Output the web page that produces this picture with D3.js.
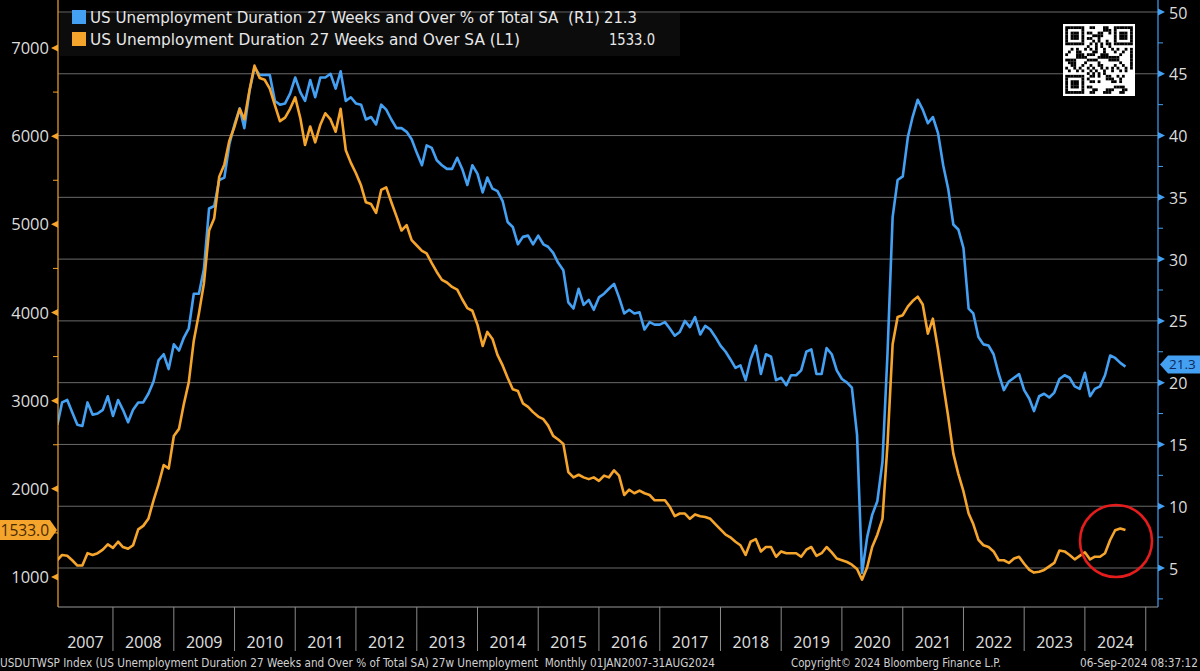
<!DOCTYPE html>
<html><head><meta charset="utf-8">
<script src="https://cdn.jsdelivr.net/npm/d3@7"></script>
<style>
html,body{margin:0;padding:0;background:#000;overflow:hidden;}
svg{display:block;}
text.pre{white-space:pre;}
</style></head><body>
<svg id="c" width="1200" height="671"></svg>
<script>
// ---- DATA (monthly, Jan 2007 - Aug 2024) ----
const seriesStart = [2007, 0]; // January 2007
// US Unemployment Duration 27 Weeks and Over SA (thousands, L1)
const longTermUnemployed = [
  1190,1250,1240,1190,1130,1130,1270,1250,1270,1310,1370,1330,
  1400,1340,1320,1360,1540,1580,1660,1870,2050,2270,2230,2600,
  2680,2950,3210,3680,3990,4330,4930,5070,5540,5680,5950,6110,
  6310,6190,6520,6800,6660,6640,6540,6350,6170,6210,6310,6440,
  6200,5900,6110,5930,6130,6260,6190,6050,6310,5840,5700,5580,
  5440,5250,5230,5130,5390,5420,5250,5090,4930,4990,4820,4760,
  4700,4670,4560,4460,4370,4340,4290,4260,4150,4050,4020,3860,
  3620,3780,3700,3520,3400,3260,3130,3110,2970,2930,2870,2820,
  2790,2720,2600,2560,2510,2190,2130,2160,2130,2110,2130,2090,
  2150,2130,2210,2150,1930,1990,1950,1980,1950,1930,1870,1870,
  1870,1800,1690,1720,1720,1660,1710,1690,1680,1660,1600,1540,
  1480,1450,1400,1360,1250,1400,1430,1290,1340,1340,1230,1290,
  1270,1270,1270,1230,1310,1340,1240,1270,1340,1280,1210,1190,
  1170,1140,1090,970,1110,1340,1480,1660,2500,3640,3950,3970,
  4070,4130,4180,4090,3760,3930,3580,3190,2820,2400,2170,1970,
  1720,1600,1420,1360,1340,1290,1190,1190,1160,1210,1230,1150,
  1080,1050,1060,1080,1120,1160,1300,1290,1250,1200,1240,1280,
  1200,1230,1230,1270,1420,1530,1550,1533
];
// US Unemployment Duration 27 Weeks and Over % of Total SA (R1)
const longTermShare = [
  16.6,18.4,18.6,17.6,16.6,16.5,18.4,17.4,17.5,17.8,18.9,17.3,
  18.6,17.8,16.8,17.8,18.4,18.4,19.1,20.1,21.8,22.3,21.1,23.1,
  22.6,23.6,24.4,27.2,27.2,29.2,34.1,34.3,36.4,36.6,39.3,40.9,
  42.2,40.6,43.6,45.5,44.9,44.9,44.9,42.8,42.5,42.6,43.4,44.7,
  43.5,42.8,44.5,43.1,44.7,44.7,45.0,43.8,45.2,42.8,43.1,42.6,
  42.5,41.3,41.5,40.9,42.5,42.1,41.3,40.6,40.6,40.3,39.7,38.6,
  37.6,39.2,39.0,38.0,37.6,37.3,37.3,38.2,37.3,36.0,37.6,36.9,
  35.4,36.6,35.7,35.5,34.7,33.0,32.6,31.2,31.8,31.9,31.2,31.9,
  31.2,31.0,30.5,29.7,29.1,26.5,26.0,27.6,26.3,26.7,25.9,26.9,
  27.2,27.6,28.0,26.9,25.6,25.9,25.6,25.7,24.3,24.9,24.7,24.7,
  24.9,24.4,23.8,24.1,25.0,24.5,25.3,23.9,24.6,24.3,23.7,23.0,
  22.5,21.9,21.2,21.4,20.2,21.9,23.0,20.7,22.3,22.1,20.2,20.4,
  19.8,20.6,20.6,21.0,22.5,22.7,20.7,20.7,22.8,22.3,21.0,20.3,
  20.0,19.6,15.8,4.6,7.5,9.3,10.4,13.6,22.3,33.4,36.4,36.7,
  39.9,41.5,42.9,42.1,41.0,41.5,40.2,37.6,35.7,32.8,32.4,30.9,
  26.0,25.6,23.7,23.1,23.0,22.3,20.7,19.4,20.1,20.4,20.7,19.4,
  18.7,17.7,18.9,19.1,18.8,19.2,20.3,20.6,20.4,19.7,19.5,20.8,
  18.9,19.5,19.7,20.6,22.2,22.0,21.6,21.3
];
const leftTicks = [1000,2000,3000,4000,5000,6000,7000];
const leftMinor = [1500,2500,3500,4500,5500,6500];
const rightTicks = [5,10,15,20,25,30,35,40,45,50];
const rightMinor = [2.5,7.5,12.5,17.5,22.5,27.5,32.5,37.5,42.5,47.5];
const yearLabels = [2007,2008,2009,2010,2011,2012,2013,2014,2015,2016,2017,2018,2019,2020,2021,2022,2023,2024];
const legendNames = [
  "US Unemployment Duration 27 Weeks and Over % of Total SA  (R1)",
  "US Unemployment Duration 27 Weeks and Over SA (L1)"
];
const lastLabels = ["21.3", "1533.0"];
const footerLeft = "USDUTWSP Index (US Unemployment Duration 27 Weeks and Over % of Total SA) 27w Unemployment  Monthly 01JAN2007-31AUG2024";
const footerMid = "Copyright\u00A9 2024 Bloomberg Finance L.P.";
const footerRight = "06-Sep-2024 08:37:12";

// ---- STYLE ----
const BLUE = "#44a0f2", ORANGE = "#f6a52c";
const W = 1200, H = 671;
const L = 58, R = 1158, B = 607;
const svg = d3.select("#c");
svg.append("rect").attr("width", W).attr("height", H).attr("fill", "#000");

// monthly points plotted at month end
const dates = longTermShare.map((_, i) => new Date(seriesStart[0], seriesStart[1] + i + 1, 1));
const x = d3.scaleTime().domain([new Date(2007,0,1), new Date(2025,0,1)]).range([52.25, 1145.75]);
const yL = d3.scaleLinear().domain([1000, 7000]).range([577, 48]);
const yR = d3.scaleLinear().domain([5, 50]).range([568, 12]);

// gridlines
svg.append("g").selectAll("line").data(rightTicks).join("line")
  .attr("x1", L).attr("x2", R).attr("y1", d => yR(d)).attr("y2", d => yR(d))
  .attr("stroke", "#6a6a6a").attr("stroke-width", 1);

// legend box
svg.append("rect").attr("x", 60).attr("y", 13).attr("width", 620).attr("height", 43).attr("fill", "#0c0c0c");

// clip
svg.append("clipPath").attr("id", "clip").append("rect").attr("x", L).attr("y", 0).attr("width", R - L).attr("height", B);

const lineB = d3.line().x((d, i) => x(dates[i])).y(d => yR(d)).curve(d3.curveLinear);
const lineO = d3.line().x((d, i) => x(dates[i])).y(d => yL(d)).curve(d3.curveLinear);
const plot = svg.append("g").attr("clip-path", "url(#clip)");
plot.append("path").datum(longTermShare).attr("d", lineB).attr("fill", "none")
  .attr("stroke", BLUE).attr("stroke-width", 2.6).attr("stroke-linejoin", "round");
plot.append("path").datum(longTermUnemployed).attr("d", lineO).attr("fill", "none")
  .attr("stroke", ORANGE).attr("stroke-width", 2.6).attr("stroke-linejoin", "round");

// plot bottom border
svg.append("line").attr("x1", L).attr("x2", R).attr("y1", B).attr("y2", B).attr("stroke", "#9a9a9a");

// axes lines
svg.append("line").attr("x1", L).attr("x2", L).attr("y1", 0).attr("y2", B).attr("stroke", ORANGE).attr("stroke-width", 1.2);
svg.append("line").attr("x1", R).attr("x2", R).attr("y1", 0).attr("y2", B).attr("stroke", BLUE).attr("stroke-width", 1.2);

const axisFont = "'Open Sans','Noto Sans',sans-serif";
// left ticks
const gl = svg.append("g");
gl.selectAll("path.t").data(leftTicks).join("path").attr("class", "t")
  .attr("d", d => `M${L},${yL(d)-3.5}L${L-7},${yL(d)}L${L},${yL(d)+3.5}Z`).attr("fill", ORANGE);
gl.selectAll("line.m").data(leftMinor).join("line").attr("class", "m")
  .attr("x1", L - 5).attr("x2", L).attr("y1", d => yL(d)).attr("y2", d => yL(d)).attr("stroke", ORANGE);
gl.selectAll("text").data(leftTicks).join("text")
  .attr("x", L - 9).attr("y", d => yL(d) + 6).attr("text-anchor", "end")
  .attr("font-family", axisFont).attr("font-size", 16.5).attr("fill", "#dcdcdc").text(d => d);
// right ticks
const gr = svg.append("g");
gr.selectAll("path.t").data(rightTicks).join("path").attr("class", "t")
  .attr("d", d => `M${R},${yR(d)-3.5}L${R+7},${yR(d)}L${R},${yR(d)+3.5}Z`).attr("fill", BLUE);
gr.selectAll("line.m").data(rightMinor).join("line").attr("class", "m")
  .attr("x1", R).attr("x2", R + 5).attr("y1", d => yR(d)).attr("y2", d => yR(d)).attr("stroke", BLUE);
gr.selectAll("text").data(rightTicks).join("text")
  .attr("x", R + 11).attr("y", d => yR(d) + 6.5).attr("text-anchor", "start")
  .attr("font-family", axisFont).attr("font-size", 16).attr("fill", "#dcdcdc").text(d => d);

// last value tags
const lastO = longTermUnemployed[longTermUnemployed.length - 1];
const lastB = longTermShare[longTermShare.length - 1];
const yo = yL(lastO), yb = yR(lastB) - 2;
svg.append("path").attr("d", `M-2,${yo-10}L${L-8},${yo-10}L${L-1},${yo}L${L-8},${yo+10}L-2,${yo+10}Z`).attr("fill", ORANGE);
svg.append("text").attr("x", L - 9).attr("y", yo + 5.5).attr("text-anchor", "end")
  .attr("font-family", axisFont).attr("font-size", 15.5).attr("fill", "#4a2c00").text(lastLabels[1]);
svg.append("path").attr("d", `M${R+2},${yb}L${R+10},${yb-9}L${W+2},${yb-9}L${W+2},${yb+9}L${R+10},${yb+9}Z`).attr("fill", BLUE);
svg.append("text").attr("x", R + 11).attr("y", yb + 4.5).attr("text-anchor", "start")
  .attr("font-family", axisFont).attr("font-size", 13.5).attr("fill", "#0c2a5c").text(lastLabels[0]);

// x axis: year separators + labels
const years = yearLabels.map(y => ({ y, x0: Math.max(L, x(new Date(y,0,1))), x1: x(new Date(y+1,0,1)) }));
svg.append("g").selectAll("line").data(years).join("line")
  .attr("x1", d => d.x1).attr("x2", d => d.x1).attr("y1", B).attr("y2", 651)
  .attr("stroke", "#8a8a8a");
svg.append("g").selectAll("text").data(years).join("text")
  .attr("x", d => (d.x0 + d.x1) / 2).attr("y", 648).attr("text-anchor", "middle")
  .attr("font-family", axisFont).attr("font-size", 16).attr("fill", "#e0e0e0").text(d => d.y);

// legend
const legFont = "'Liberation Sans Narrow','DejaVu Sans Condensed','Liberation Sans',sans-serif";
const leg = svg.append("g");
[[BLUE, 17], [ORANGE, 39]].forEach(([c, cy], i) => {
  leg.append("rect").attr("x", 72).attr("y", cy - 7).attr("width", 14).attr("height", 14).attr("fill", c);
  leg.append("text").attr("class", "pre").attr("x", 90).attr("y", cy + 5.5).attr("font-family", legFont).attr("font-size", 15.5)
    .attr("fill", "#e8e8e8").attr("textLength", i === 0 ? 510 : 430).attr("lengthAdjust", "spacingAndGlyphs")
    .text(legendNames[i]);
  leg.append("text").attr("x", i === 0 ? 604 : 609).attr("y", cy + 5.5).attr("font-family", legFont).attr("font-size", 15.5)
    .attr("fill", "#e8e8e8").attr("textLength", i === 0 ? 33 : 46).attr("lengthAdjust", "spacingAndGlyphs")
    .text(lastLabels[i]);
});

// QR code style badge
const qx = 1063, qy = 24, qs = 72, n = 25, m = 2.7, off = (qs - n * m) / 2;
const qr = svg.append("g");
qr.append("rect").attr("x", qx).attr("y", qy).attr("width", qs).attr("height", qs).attr("fill", "#fff");
const cells = [];
const finder = (r, c) => {
  const f = [[0,0],[0,n-7],[n-7,0]];
  for (const [fr, fc] of f) {
    if (r >= fr && r < fr + 7 && c >= fc && c < fc + 7) {
      const rr = r - fr, cc = c - fc;
      return (rr === 0 || rr === 6 || cc === 0 || cc === 6 || (rr >= 2 && rr <= 4 && cc >= 2 && cc <= 4)) ? 1 : 0;
    }
    if (r >= fr - 1 && r <= fr + 7 && c >= fc - 1 && c <= fc + 7) return 0;
  }
  return -1;
};
for (let r = 0; r < n; r++) for (let c = 0; c < n; c++) {
  let v = finder(r, c);
  if (v === -1) v = ((r * 7 + c * 13 + r * c * 3 + (r ^ c)) % 5) < 2 ? 1 : 0;
  if (v) cells.push([r, c]);
}
qr.selectAll("rect.m").data(cells).join("rect").attr("class", "m")
  .attr("x", d => qx + off + d[1] * m).attr("y", d => qy + off + d[0] * m)
  .attr("width", m + 0.1).attr("height", m + 0.1).attr("fill", "#000");

// red highlight circle
svg.append("circle").attr("cx", 1116).attr("cy", 541).attr("r", 36)
  .attr("fill", "none").attr("stroke", "#e41c1c").attr("stroke-width", 2.6);

// footer
const ff = "'Liberation Sans Narrow','DejaVu Sans Condensed','Liberation Sans',sans-serif";
svg.append("text").attr("class", "pre").attr("x", 0).attr("y", 667).attr("font-family", ff).attr("font-size", 11.5).attr("fill", "#d0d0d0")
  .attr("textLength", 715).attr("lengthAdjust", "spacingAndGlyphs").text(footerLeft);
svg.append("text").attr("x", 791).attr("y", 667).attr("font-family", ff).attr("font-size", 11.5).attr("fill", "#d0d0d0")
  .attr("textLength", 210).attr("lengthAdjust", "spacingAndGlyphs").text(footerMid);
svg.append("text").attr("x", 1080).attr("y", 667).attr("font-family", ff).attr("font-size", 11.5).attr("fill", "#d0d0d0")
  .attr("textLength", 118).attr("lengthAdjust", "spacingAndGlyphs").text(footerRight);
</script>
</body></html>
